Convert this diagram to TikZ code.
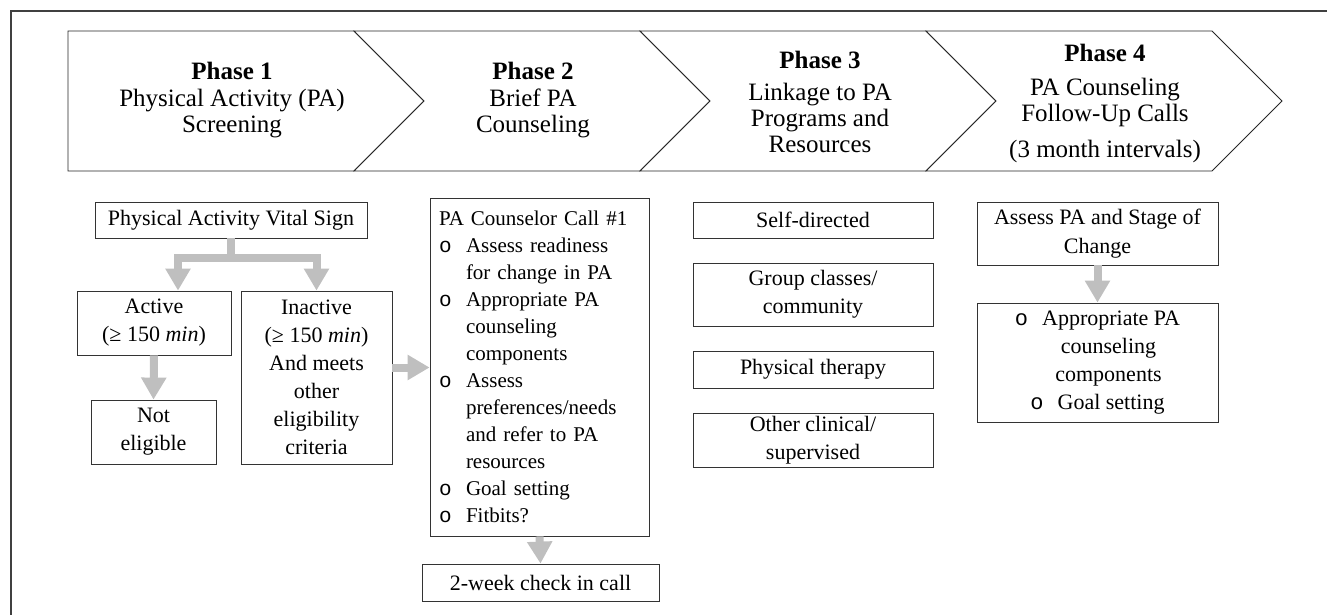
\documentclass[tikz,border=0pt]{standalone}
\usepackage{fontspec}
\setmainfont{Liberation Serif}
\newfontfamily\bulfont{Liberation Mono}
\usepackage{tikz}
\usetikzlibrary{arrows.meta}

\newcommand{\bul}{\makebox[27pt][l]{\bulfont o}}
\newcommand{\ind}{\hspace*{27pt}}

\begin{document}
\begin{tikzpicture}
      [   x=1pt,y=-1pt,
          tbox/.style 2 args={draw=black!80,line width=0.8pt,fill=white,minimum width=#1,minimum height=#2,
                inner sep=0pt,align=center,font=\fontsize{22}{28}\selectfont},
          phase/.style={align=center,font=\fontsize{25}{26}\selectfont},
          fatarrow/.style={draw=gray!50,line width=8pt,-{Triangle[length=22pt,width=24pt]}},
          chev/.style={draw=black!85,line width=0.9pt,fill=white},
      ]
          \useasboundingbox (0,0) rectangle (1327,615);
          % frame
          \draw[black!75,line width=1.5pt] (11,615) -- (11,11) -- (1327,11);

          % phase chevrons
          \draw[chev] (68,31) -- (354,31) -- (424,101) -- (354,171) -- (68,171) -- cycle;
          \draw[chev] (354,31) -- (640,31) -- (710,101) -- (640,171) -- (354,171) -- (424,101) -- cycle;
          \draw[chev] (640,31) -- (926,31) -- (996,101) -- (926,171) -- (640,171) -- (710,101) -- cycle;
          \draw[chev] (926,31) -- (1212,31) -- (1282,101) -- (1212,171) -- (926,171) -- (996,101) -- cycle;
          \node[phase] (ph1) at (232,100) {\textbf{Phase 1}\\[1pt] Physical Activity (PA)\\ Screening};
          \node[phase] (ph2) at (533,100) {\textbf{Phase 2}\\[1pt] Brief PA\\ Counseling};
          \node[phase] (ph3) at (820,102) {\textbf{Phase 3}\\[6pt] Linkage to PA\\ Programs and\\ Resources};
          \node[phase] (ph4) at (1105,103) {\textbf{Phase 4}\\[8pt] PA Counseling\\ Follow-Up Calls\\[10pt] (3 month intervals)};

          % phase 1
          \node[tbox={272pt}{36pt}] (vital) at (231,220) {Physical Activity Vital Sign};
          \node[tbox={154pt}{64pt}] (active) at (154,323) {Active\\ (≥ 150 \textit{min})};
          \node[tbox={151pt}{173pt}] (inactive) at (316.5,377.5) {Inactive\\ (≥ 150 \textit{min})\\ And meets\\ other\\ eligibility\\ criteria};
          \node[tbox={125pt}{64pt}] (noteligible) at (153.5,432) {Not\\ eligible};
          \draw[fatarrow] (vital.south) -- ++(0,20) -| ([xshift=24pt]active.north);
          \draw[fatarrow] (vital.south) -- ++(0,20) -| (inactive.north);
          \draw[fatarrow] (active.south) -- (noteligible.north);

          % phase 2
          \node[tbox={219pt}{338pt},text width=201pt,inner xsep=9pt,align=left,font=\fontsize{21}{27}\selectfont]
                (counselor) at (539.5,367) {PA Counselor Call \#1\\
                \bul Assess readiness\\ \ind for change in PA\\
                \bul Appropriate PA\\ \ind counseling\\ \ind components\\
                \bul Assess\\ \ind preferences/needs\\ \ind and refer to PA\\ \ind resources\\
                \bul Goal setting\\
                \bul Fitbits?};
          \node[tbox={237pt}{37pt}] (checkin) at (540.5,582.5) {2-week check in call};
          \draw[fatarrow] ([yshift=10pt]inactive.east) -- ([yshift=10pt]inactive.east -| counselor.west);
          \draw[fatarrow] (counselor.south) -- (checkin.north);

          % phase 3
          \node[tbox={240pt}{36pt}] (self) at (813,220) {Self-directed};
          \node[tbox={240pt}{63pt}] (group) at (813,294.5) {Group classes/\\ community};
          \node[tbox={240pt}{37pt}] (therapy) at (813,369.5) {Physical therapy};
          \node[tbox={240pt}{54pt}] (clinical) at (813,440) {Other clinical/\\ supervised};

          % phase 4
          \node[tbox={241pt}{63pt}] (assess) at (1097.5,233.5) {\raisebox{-4pt}{\shortstack{Assess PA and Stage of\\[6pt] Change}}};
          \node[tbox={241pt}{119pt}] (approp) at (1097.5,362.5) {{\bulfont o}\hspace{14pt}Appropriate PA\\
                \hspace*{22pt}counseling\\ \hspace*{22pt}components\\ {\bulfont o}\hspace{14pt}Goal setting};
          \draw[fatarrow] (assess.south) -- (approp.north);
    \end{tikzpicture}
\end{document}
